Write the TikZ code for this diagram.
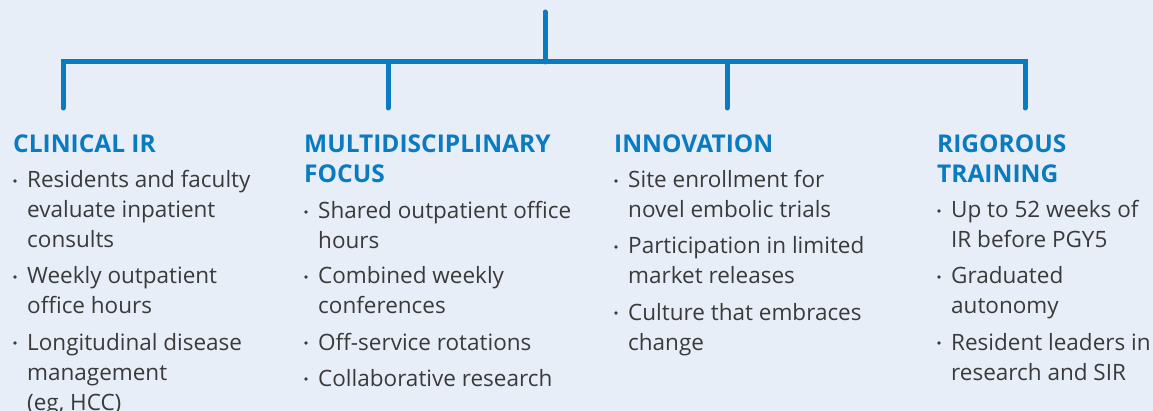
\documentclass[tikz,border=0pt]{standalone}
\usepackage{fontspec}
\setmainfont{Open Sans}
\usepackage{xcolor}
\usetikzlibrary{positioning}
\definecolor{bgc}{HTML}{E7EEF8}
\definecolor{linec}{HTML}{0B7BC1}
\definecolor{txtc}{HTML}{3A3A3A}
\tikzset{
  br/.style={line width=5pt,linec,line cap=round,line join=miter},
  head/.style={anchor=base west,inner sep=0pt,linec,align=left,
    font=\fontsize{24.5}{30}\selectfont\bfseries},
  item/.style={anchor=base west,inner sep=0pt,txtc,align=left,
    font=\fontsize{22.5}{30}\selectfont},
  dot/.style={circle,fill=txtc,inner sep=0pt,minimum size=3.6pt}
}
\begin{document}
\begin{tikzpicture}[x=1pt,y=-1pt]
\fill[bgc] (0,0) rectangle (1153,411);
\useasboundingbox (0,0) rectangle (1153,411);
% tree
\coordinate (root) at (545,12);
\coordinate (hub) at (545,62);
\coordinate (clin) at (63,108); \coordinate (multi) at (388,108);
\coordinate (innov) at (727,108); \coordinate (train) at (1025,108);
\draw[br] (root) -- (hub);
\draw[br] (clin) -- (clin|-hub) -- (train|-hub) -- (train);
\draw[br] (multi|-hub) -- (multi);
\draw[br] (innov|-hub) -- (innov);
% text nodes sit on the baseline of their last line
% clinical IR
\node[head] (h1) at (13,153) {CLINICAL IR};
\node[dot] (d11) at (15,181) {}; \node[item] (t11) at (27,248) {Residents and faculty\\evaluate inpatient\\consults};
\node[dot] (d12) at (15,277) {}; \node[item] (t12) at (27,314) {Weekly outpatient\\office hours};
\node[dot] (d13) at (15,343) {}; \node[item] (t13) at (27,410) {Longitudinal disease\\management\\(eg, HCC)};
% multidisciplinary focus
\node[head] (h2) at (304,183) {MULTIDISCIPLINARY\\FOCUS};
\node[dot] (d21) at (306,212) {}; \node[item] (t21) at (318,249) {Shared outpatient office\\hours};
\node[dot] (d22) at (306,277) {}; \node[item] (t22) at (318,314) {Combined weekly\\conferences};
\node[dot] (d23) at (306,343) {}; \node[item] (t23) at (318,350) {Off-service rotations};
\node[dot] (d24) at (306,379) {}; \node[item] (t24) at (318,386) {Collaborative research};
% innovation
\node[head] (h3) at (614,153) {INNOVATION};
\node[dot] (d31) at (616,181) {}; \node[item] (t31) at (628,218) {Site enrollment for\\novel embolic trials};
\node[dot] (d32) at (616,247) {}; \node[item] (t32) at (628,284) {Participation in limited\\market releases};
\node[dot] (d33) at (616,313) {}; \node[item] (t33) at (628,350) {Culture that embraces\\change};
% rigorous training
\node[head] (h4) at (937,183) {RIGOROUS\\TRAINING};
\node[dot] (d41) at (939,211) {}; \node[item] (t41) at (951,248) {Up to 52 weeks of\\IR before PGY5};
\node[dot] (d42) at (939,277) {}; \node[item] (t42) at (951,314) {Graduated\\autonomy};
\node[dot] (d43) at (939,343) {}; \node[item] (t43) at (951,380) {Resident leaders in\\research and SIR};
\end{tikzpicture}
\end{document}
